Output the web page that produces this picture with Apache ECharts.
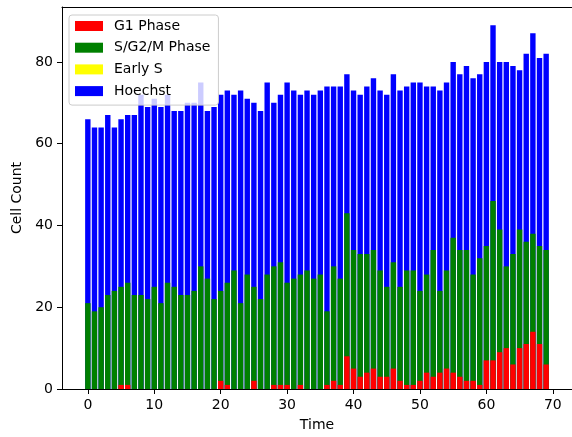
<!DOCTYPE html>
<html>
<head>
<meta charset="utf-8">
<script src="https://cdn.jsdelivr.net/npm/echarts@6/dist/echarts.min.js"></script>
<style>
html,body{margin:0;padding:0;background:#fff;overflow:hidden;}
#chart{width:572px;height:437px;}
</style>
</head>
<body>
<div id="chart"></div>
<script>
// ---- data ----
const times = Array.from({length: 70}, (_, i) => i); // category positions 0..69
const hoechst = [66,64,64,67,64,66,67,67,72,69,71,69,72,68,68,70,70,75,68,69,
                 72,73,72,73,71,70,68,75,70,72,75,73,72,73,72,73,74,74,74,77,
                 73,72,74,76,73,72,77,73,74,75,75,74,74,73,75,80,77,79,76,77,
                 80,89,80,80,79,78,82,87,81,82];
const sg2m = [21,19,20,23,24,25,26,23,23,22,25,21,26,25,23,23,24,30,27,22,
              24,26,29,21,28,25,22,28,30,31,26,27,28,29,27,28,19,30,27,43,
              34,33,33,34,29,25,31,25,29,29,24,28,34,24,29,37,34,34,28,32,
              35,46,39,30,33,39,36,38,35,34];
const earlyS = [0,0,0,0,0,0,0,0,0,0,0,0,0,0,0,0,0,0,0,0,
                0,0,0,0,0,0,0,0,0,0,0,0,0,0,0,0,0,0,0,0,
                0,0,0,0,0,0,0,0,0,0,0,0,0,0,0,0,0,0,0,0,
                0,0,0,0,0,0,0,0,0,0];
const g1 = [0,0,0,0,0,1,1,0,0,0,0,0,0,0,0,0,0,0,0,0,
            2,1,0,0,0,2,0,0,1,1,1,0,1,0,0,0,1,2,1,8,
            5,3,4,5,3,3,5,2,1,1,2,4,3,4,5,4,3,2,2,1,
            7,7,9,10,6,10,11,14,11,6];
const seriesNames = ['G1 Phase','S/G2/M Phase','Early S','Hoechst'];
const xTicks = [0,10,20,30,40,50,60,70];
const yTicks = [0,20,40,60,80];

const pair = arr => arr.map((v, i) => [times[i], v]);
const FONT = 'DejaVu Sans';
const chart = echarts.init(document.getElementById('chart'), null, {renderer: 'canvas'});

function bar(name, data, color) {
  return {
    name: name, type: 'bar', data: pair(data), barWidth: 5.4, barGap: '-100%',
    xAxisIndex: 0, itemStyle: {color: color}, emphasis: {disabled: true}, animation: false
  };
}

chart.setOption({
  animation: false,
  textStyle: {fontFamily: FONT},
  grid: {left: 62, right: -6, top: 7, bottom: 45, show: false},
  legend: {
    data: seriesNames, orient: 'vertical', left: 69, top: 15,
    padding: [4, 8, 7, 6], itemWidth: 28, itemHeight: 10, itemGap: 7.7,
    icon: 'rect', backgroundColor: 'rgba(255,255,255,0.8)',
    borderColor: '#cccccc', borderWidth: 1, borderRadius: 3,
    textStyle: {fontFamily: FONT, fontSize: 14, lineHeight: 14, color: '#000', padding: [0,0,0,6]},
    selectedMode: false, z: 10
  },
  xAxis: [{
    type: 'value', min: -3.89, max: 72.89, position: 'bottom',
    name: 'Time', nameLocation: 'middle', nameGap: 29,
    nameTextStyle: {fontFamily: FONT, fontSize: 14, color: '#000'},
    axisLine: {show: true, lineStyle: {color: '#000', width: 1}}, splitLine: {show: false},
    axisTick: {show: true, length: 5, lineStyle: {color: '#000', width: 1}, customValues: xTicks},
    axisLabel: {fontFamily: FONT, fontSize: 14, color: '#000', margin: 9, customValues: xTicks}
  }, {
    type: 'value', min: -3.89, max: 72.89, position: 'top',
    axisLine: {show: true, onZero: false, lineStyle: {color: '#000', width: 1}},
    splitLine: {show: false}, axisTick: {show: false}, axisLabel: {show: false}
  }],
  yAxis: {
    type: 'value', min: 0, max: 93.45,
    name: 'Cell Count', nameLocation: 'middle', nameGap: 37, nameRotate: 90,
    nameTextStyle: {fontFamily: FONT, fontSize: 14, color: '#000'},
    axisLine: {show: true, onZero: false, lineStyle: {color: '#000', width: 1}}, splitLine: {show: false},
    axisTick: {show: true, length: 5, lineStyle: {color: '#000', width: 1}, customValues: yTicks},
    axisLabel: {fontFamily: FONT, fontSize: 14, color: '#000', margin: 9, customValues: yTicks}
  },
  series: [
    bar('Hoechst', hoechst, '#0000ff'),
    bar('Early S', earlyS, '#ffff00'),
    bar('S/G2/M Phase', sg2m, '#008000'),
    bar('G1 Phase', g1, '#ff0000')
  ]
});
</script>
</body>
</html>
